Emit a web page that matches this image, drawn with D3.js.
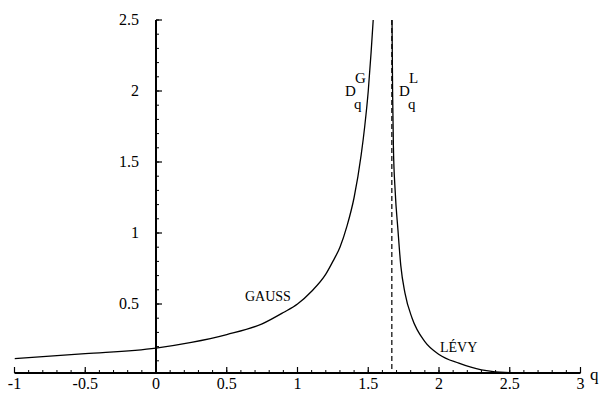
<!DOCTYPE html>
<html>
<head>
<meta charset="utf-8">
<script src="https://cdn.jsdelivr.net/npm/d3@7"></script>
<style>
  body { margin: 0; background: #fff; }
  svg text { font-family: "Liberation Serif", "DejaVu Serif", serif; fill: #000; }
</style>
</head>
<body>
<svg id="chart" width="603" height="393"></svg>
<script>
// values
const gaussQ = [-1, -0.5, 0, 0.25, 0.5, 0.75, 0.9, 1.0, 1.1, 1.2, 1.25, 1.3, 1.35, 1.4, 1.45, 1.475, 1.5, 1.52, 1.535];
const gaussD = [0.116, 0.15, 0.19, 0.23, 0.285, 0.36, 0.44, 0.5, 0.59, 0.71, 0.8, 0.9, 1.05, 1.25, 1.55, 1.75, 2.0, 2.27, 2.5];

const levyQ = [1.668, 1.672, 1.678, 1.69, 1.71, 1.73, 1.76, 1.81, 1.9, 2.0, 2.14, 2.3, 2.5, 2.8];
const levyD = [2.5, 2.0, 1.6, 1.3, 1.02, 0.77, 0.575, 0.4, 0.235, 0.145, 0.083, 0.036, 0.017, 0.015];

const xTicks = [-1, -0.5, 0, 0.5, 1, 1.5, 2, 2.5, 3];
const xTickLabels = ['-1', '-0.5', '0', '0.5', '1', '1.5', '2', '2.5', '3'];
const yTicks = [0.5, 1, 1.5, 2, 2.5];
const yTickLabels = ['0.5', '1', '1.5', '2', '2.5'];
const qCritical = 5 / 3;
const yFloor = 0.014;

const svg = d3.select('#chart');

const x = d3.scaleLinear().domain([-1, 3]).range([14.5, 580.5]);
const y = d3.scaleLinear().domain([0, 2.5]).range([375, 20]);
const axisY = y(yFloor);

svg.append('defs').append('clipPath').attr('id', 'plot')
  .append('rect')
  .attr('x', x(-1)).attr('y', y(2.5))
  .attr('width', x(3) - x(-1)).attr('height', axisY - y(2.5));

// x axis (ticks point up, Mathematica style)
const xMinor = d3.range(-10, 31).map(d => d / 10);
const gx = svg.append('g');
gx.append('line')
  .attr('x1', x(-1)).attr('x2', x(3))
  .attr('y1', axisY).attr('y2', axisY)
  .attr('stroke', '#000').attr('stroke-width', 2);
gx.selectAll('line.minor').data(xMinor).enter().append('line')
  .attr('class', 'minor')
  .attr('x1', d => x(d)).attr('x2', d => x(d))
  .attr('y1', axisY).attr('y2', axisY - 3)
  .attr('stroke', '#000').attr('stroke-width', 1);
gx.selectAll('line.major').data(xTicks).enter().append('line')
  .attr('class', 'major')
  .attr('x1', d => x(d)).attr('x2', d => x(d))
  .attr('y1', axisY).attr('y2', axisY - 6)
  .attr('stroke', '#000').attr('stroke-width', 1.2);
gx.selectAll('text').data(xTicks).enter().append('text')
  .attr('x', d => x(d))
  .attr('y', 389)
  .attr('text-anchor', 'middle')
  .attr('font-size', 16)
  .text((d, i) => xTickLabels[i]);
svg.append('text')
  .attr('x', 590).attr('y', 380)
  .attr('font-size', 17)
  .text('q');

// y axis at q = 0
const yMinor = d3.range(1, 26).map(d => d / 10);
const gy = svg.append('g');
gy.append('line')
  .attr('x1', x(0)).attr('x2', x(0))
  .attr('y1', axisY).attr('y2', y(2.5))
  .attr('stroke', '#000').attr('stroke-width', 2);
gy.selectAll('line.minor').data(yMinor).enter().append('line')
  .attr('class', 'minor')
  .attr('x1', x(0)).attr('x2', x(0) + 3)
  .attr('y1', d => y(d)).attr('y2', d => y(d))
  .attr('stroke', '#000').attr('stroke-width', 1);
gy.selectAll('line.major').data(yTicks).enter().append('line')
  .attr('class', 'major')
  .attr('x1', x(0)).attr('x2', x(0) + 6)
  .attr('y1', d => y(d)).attr('y2', d => y(d))
  .attr('stroke', '#000').attr('stroke-width', 1.2);
gy.selectAll('text').data(yTicks).enter().append('text')
  .attr('x', x(0) - 17)
  .attr('y', d => y(d) + 5)
  .attr('text-anchor', 'end')
  .attr('font-size', 16)
  .text((d, i) => yTickLabels[i]);

// dashed line at the critical q
svg.append('line')
  .attr('x1', x(qCritical)).attr('x2', x(qCritical))
  .attr('y1', y(2.5)).attr('y2', axisY)
  .attr('stroke', '#000').attr('stroke-width', 1.2)
  .attr('stroke-dasharray', '5,3');

const line = d3.line()
  .x(d => x(d[0]))
  .y(d => y(d[1]))
  .curve(d3.curveMonotoneX);

const curves = svg.append('g').attr('clip-path', 'url(#plot)');
curves.append('path')
  .datum(gaussQ.map((q, i) => [q, gaussD[i]]))
  .attr('d', line)
  .attr('fill', 'none').attr('stroke', '#000').attr('stroke-width', 1.3);
curves.append('path')
  .datum(levyQ.map((q, i) => [q, levyD[i]]))
  .attr('d', line)
  .attr('fill', 'none').attr('stroke', '#000').attr('stroke-width', 1.3);

// labels
svg.append('text').attr('x', 245).attr('y', 301).attr('font-size', 14).text('GAUSS');
svg.append('text').attr('x', 440).attr('y', 352).attr('font-size', 14).text('LÉVY');

function dq(cx, sup) {
  svg.append('text').attr('x', cx - 4).attr('y', 83).attr('font-size', 15).text(sup);
  svg.append('text').attr('x', cx - 14).attr('y', 96).attr('font-size', 15).text('D');
  svg.append('text').attr('x', cx - 5).attr('y', 109).attr('font-size', 15).text('q');
}
dq(359, 'G');
dq(413, 'L');
</script>
</body>
</html>
